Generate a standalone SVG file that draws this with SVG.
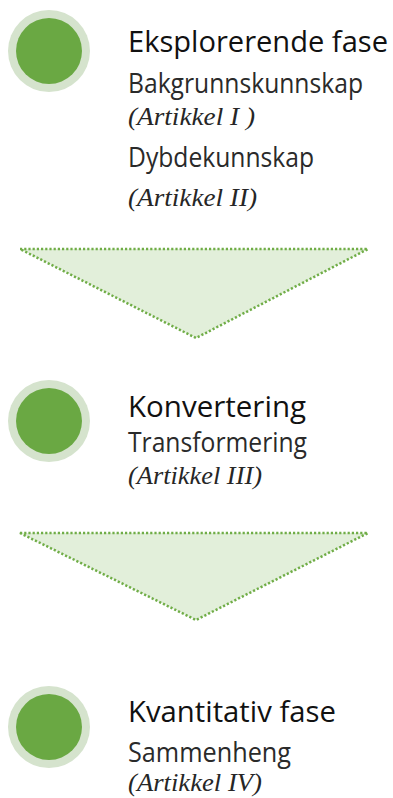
<svg xmlns="http://www.w3.org/2000/svg" width="393" height="798" viewBox="0 0 393 798">
<style>
.ring{fill:#d5e3cd}
.dot{fill:#6aa843}
.t{font-family:"Open Sans","Noto Sans",sans-serif;font-size:29px;fill:#111}
.s{font-family:"Open Sans","Noto Sans",sans-serif;font-size:26.5px;fill:#2a2a2a}
.a{font-family:"Liberation Serif","Times New Roman",serif;font-style:italic;font-size:25px;fill:#262626}
.tri{fill:#e2efda;stroke:#70ad47;stroke-width:2.5;stroke-dasharray:2.2 2;stroke-linejoin:miter}
</style>
<rect width="393" height="798" fill="#fff"/>
<g id="connectors">
<polygon class="tri" points="20,249 368,249 196,338"/>
<polygon class="tri" points="20,533 368,533 196,620"/>
</g>
<g id="node1">
<circle class="ring" cx="49" cy="51" r="41"/>
<circle class="dot" cx="49" cy="51" r="33"/>
<text class="t" x="128" y="52" textLength="260" lengthAdjust="spacingAndGlyphs">Eksplorerende fase</text>
<text class="s" x="128" y="93" textLength="235" lengthAdjust="spacingAndGlyphs">Bakgrunnskunnskap</text>
<text class="a" x="128" y="125" textLength="127" lengthAdjust="spacingAndGlyphs">(Artikkel I )</text>
<text class="s" x="128" y="167" textLength="186" lengthAdjust="spacingAndGlyphs">Dybdekunnskap</text>
<text class="a" x="128" y="206" textLength="129" lengthAdjust="spacingAndGlyphs">(Artikkel II)</text>
</g>
<g id="node2">
<circle class="ring" cx="49" cy="421" r="41"/>
<circle class="dot" cx="49" cy="421" r="33"/>
<text class="t" x="128" y="417" textLength="178" lengthAdjust="spacingAndGlyphs">Konvertering</text>
<text class="s" x="128" y="452" textLength="179" lengthAdjust="spacingAndGlyphs">Transformering</text>
<text class="a" x="128" y="484" textLength="134" lengthAdjust="spacingAndGlyphs">(Artikkel III)</text>
</g>
<g id="node3">
<circle class="ring" cx="49" cy="727" r="41"/>
<circle class="dot" cx="49" cy="727" r="33"/>
<text class="t" x="128" y="722" textLength="208" lengthAdjust="spacingAndGlyphs">Kvantitativ fase</text>
<text class="s" x="128" y="762" textLength="163" lengthAdjust="spacingAndGlyphs">Sammenheng</text>
<text class="a" x="128" y="791" textLength="134" lengthAdjust="spacingAndGlyphs">(Artikkel IV)</text>
</g>
</svg>
